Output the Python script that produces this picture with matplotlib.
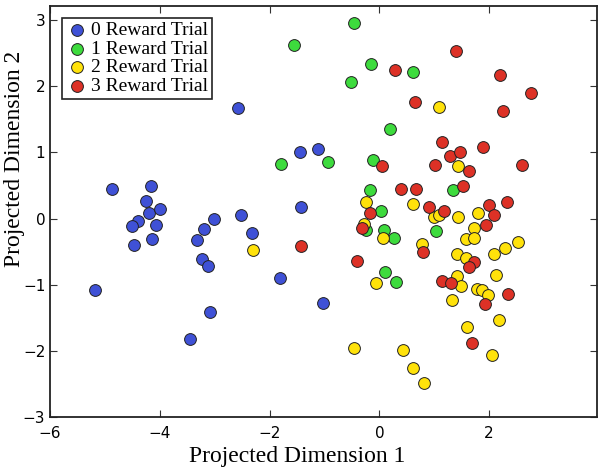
import matplotlib
matplotlib.use("Agg")
import matplotlib.pyplot as plt

# ---- data ----
x0 = [-2.58, -1.44, -1.12, -4.87, -4.16, -4.26, -4.20, -3.99, -4.39, -4.51,
      -4.08, -4.14, -4.48, -3.02, -2.52, -3.19, -2.32, -3.33, -3.23, -3.13,
      -1.42, -5.19, -3.09, -3.45, -1.81, -1.03]
y0 = [1.67, 1.01, 1.05, 0.44, 0.50, 0.26, 0.09, 0.15, -0.03, -0.11,
      -0.10, -0.31, -0.40, 0.00, 0.05, -0.16, -0.22, -0.33, -0.61, -0.71,
      0.18, -1.08, -1.41, -1.82, -0.90, -1.27]

x1 = [-1.56, -0.46, -0.15, -0.51, 0.62, 0.20, -1.80, -0.93, -0.12, -0.18,
      1.34, 0.03, 0.09, -0.25, 1.04, 0.27, 0.11, 0.30]
y1 = [2.62, 2.95, 2.33, 2.07, 2.21, 1.36, 0.82, 0.85, 0.88, 0.43,
      0.43, 0.12, -0.17, -0.17, -0.19, -0.30, -0.81, -0.96]

x2 = [1.09, 1.44, -0.24, 0.61, -0.28, 0.99, 1.08, 1.44, 1.80, 0.06,
      0.77, 1.73, 1.58, 1.72, -2.30, 2.52, 2.29, 1.42, 1.57, 2.09,
      1.42, 2.13, -0.07, 1.48, 1.78, 1.87, 1.98, 1.32, 2.17, 1.60,
      -0.46, 0.43, 0.62, 0.81, 2.05]
y2 = [1.68, 0.80, 0.25, 0.22, -0.08, 0.03, 0.06, 0.03, 0.09, -0.29,
      -0.38, -0.14, -0.31, -0.30, -0.48, -0.35, -0.45, -0.53, -0.60, -0.54,
      -0.86, -0.85, -0.98, -1.02, -1.06, -1.08, -1.16, -1.23, -1.53, -1.64,
      -1.95, -1.99, -2.26, -2.49, -2.06]

x3 = [1.40, 0.28, 2.19, 2.76, 0.65, 2.25, 1.14, 1.89, 1.28, 1.46,
      0.04, 1.01, 1.63, 2.60, 0.40, 0.67, 1.52, 0.90, 1.18, 1.99,
      2.33, -0.18, 2.08, -0.32, 1.94, -1.42, 0.80, -0.40, 1.72, 1.64,
      1.14, 1.31, 2.34, 1.92, 1.69]
y3 = [2.53, 2.24, 2.17, 1.90, 1.76, 1.62, 1.16, 1.08, 0.94, 1.01,
      0.79, 0.81, 0.72, 0.81, 0.44, 0.44, 0.50, 0.18, 0.11, 0.20,
      0.25, 0.08, 0.05, -0.14, -0.10, -0.42, -0.50, -0.64, -0.66, -0.73,
      -0.94, -0.97, -1.14, -1.29, -1.88]

labels = ["0 Reward Trial", "1 Reward Trial", "2 Reward Trial", "3 Reward Trial"]
colors = ["#3F51D6", "#3DDB3D", "#FFE20A", "#DD3126"]

xticks = [-6, -4, -2, 0, 2]
yticks = [-3, -2, -1, 0, 1, 2, 3]

# ---- plot ----
fig = plt.figure(figsize=(6.04, 4.73), dpi=100)
ax = fig.add_axes([0.083, 0.118, 0.905, 0.869])

for xs, ys, lab, c in zip([x0, x1, x2, x3], [y0, y1, y2, y3], labels, colors):
    ax.scatter(xs, ys, s=72, c=c, edgecolors="#222222", linewidths=0.7,
               label=lab, zorder=3)

ax.set_xlim(-6, 3.96)
ax.set_ylim(-3, 3.21)
ax.set_xticks(xticks)
ax.set_yticks(yticks)
ax.set_xticklabels([("\u2212" + str(-t)) if t < 0 else str(t) for t in xticks],
                   fontfamily="DejaVu Sans", fontsize=11)
ax.set_yticklabels([("\u2212" + str(-t)) if t < 0 else str(t) for t in yticks],
                   fontfamily="DejaVu Sans", fontsize=11)
ax.tick_params(direction="in", top=True, right=True, length=5, width=0.8,
               color="#333333")
ax.tick_params(axis="x", pad=6)
for sp in ax.spines.values():
    sp.set_linewidth(1.3)
    sp.set_color("#222222")

ax.set_xlabel("Projected Dimension 1", fontfamily="Liberation Serif",
              fontsize=17)
ax.set_ylabel("Projected Dimension 2", fontfamily="Liberation Serif",
              fontsize=17)
ax.xaxis.set_label_coords(0.4516, -0.069)
ax.yaxis.set_label_coords(-0.046, 0.629)

leg = ax.legend(loc="upper left", scatterpoints=1, fancybox=False,
                prop={"family": "Liberation Serif", "size": 14},
                labelspacing=0.05, handletextpad=0.1, borderpad=0.2,
                borderaxespad=0.6, handlelength=1.2, framealpha=1)
leg.get_frame().set_edgecolor("#222222")
leg.get_frame().set_linewidth(1.2)

fig.savefig("out.png", dpi=100)
